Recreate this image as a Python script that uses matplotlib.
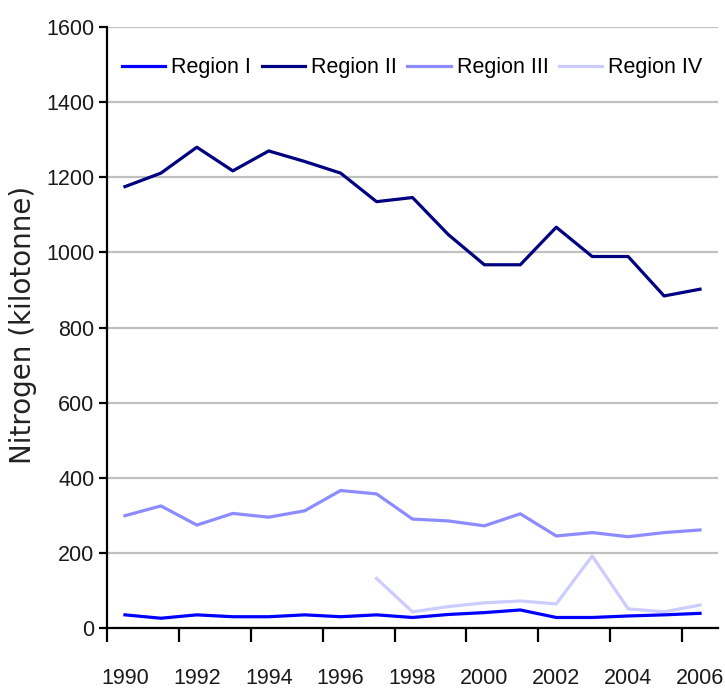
import numpy as np
import matplotlib
matplotlib.use("Agg")
import matplotlib.pyplot as plt
from matplotlib.ticker import FixedLocator

# nitrogen in kilotonne per region
years = np.arange(1990, 2007)
region_1 = [35, 26, 35, 30, 30, 35, 30, 35, 28, 36, 41, 48, 28, 28, 32, 35, 39]
region_2 = [1175, 1211, 1280, 1217, 1270, 1242, 1211, 1135, 1146, 1047, 967, 967, 1067, 989, 989, 884, 902]
region_3 = [299, 325, 274, 305, 295, 312, 366, 357, 290, 285, 272, 304, 245, 254, 243, 254, 261]
region_4_years = np.arange(1997, 2007)
region_4 = [132, 43, 57, 67, 72, 64, 192, 51, 43, 61]

labels = ['Region I', 'Region II', 'Region III', 'Region IV']
colors = ['#0000ff', '#000080', '#8c8cff', '#ccccff']
year_ticks = np.arange(1990, 2007, 2)
y_ticks = np.arange(0, 1601, 200)

plt.rcParams['font.family'] = ['Liberation Sans', 'DejaVu Sans']

fig = plt.figure(figsize=(7.25, 6.97), dpi=100)
ax = fig.add_axes([107 / 725, 1 - 628 / 697, (718 - 107) / 725, (628 - 27) / 697])

lw = 2.3
ax.plot(years, region_1, color=colors[0], lw=lw, label=labels[0], zorder=5)
ax.plot(years, region_2, color=colors[1], lw=lw, label=labels[1], zorder=4)
ax.plot(years, region_3, color=colors[2], lw=lw, label=labels[2], zorder=3)
ax.plot(region_4_years, region_4, color=colors[3], lw=lw, label=labels[3], zorder=2)

ax.set_xlim(1989.5, 2006.5)
ax.set_ylim(0, 1600)

# category axis: labels centred on years, tick marks on the boundaries
ax.set_xticks(year_ticks)
ax.set_xticklabels([str(y) for y in year_ticks])
ax.xaxis.set_minor_locator(FixedLocator(year_ticks - 0.5))
ax.tick_params(axis='x', which='major', length=0, pad=29, labelsize=15.5, labelcolor='#1a1a1a')
ax.tick_params(axis='x', which='minor', length=10, width=1.6, direction='out', color='black')

ax.set_yticks(y_ticks)
ax.tick_params(axis='y', length=6, width=1.6, pad=3, labelsize=15.5, labelcolor='#1a1a1a')

ax.yaxis.grid(True, color='#c0c0c0', lw=1.6)
ax.set_axisbelow(True)

for side in ['top', 'right']:
    ax.spines[side].set_visible(False)
ax.spines['left'].set_linewidth(1.6)
ax.spines['bottom'].set_linewidth(1.6)

fig.text(23 / 725, 1 - 325 / 697, 'Nitrogen (kilotonne)', rotation=90, ha='center', va='center',
         fontsize=20, family='DejaVu Sans', color='#222222')

fig.legend(loc='center left', bbox_to_anchor=(122 / 725, 1 - 68 / 697), ncol=4, frameon=False,
           fontsize=15.5, handlelength=2.0, handletextpad=0.28, columnspacing=0.5,
           borderpad=0, borderaxespad=0)

fig.savefig('out.png', dpi=100, facecolor='white')
